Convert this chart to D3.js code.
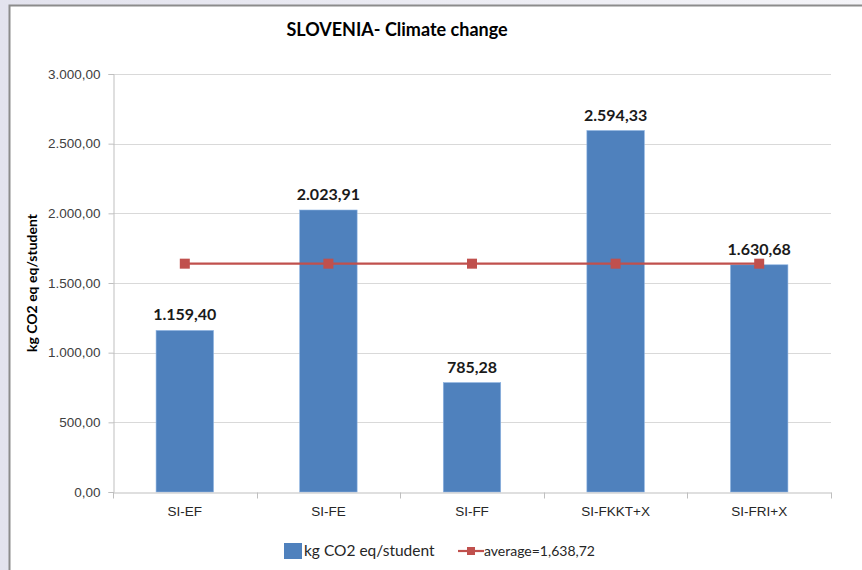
<!DOCTYPE html>
<html>
<head>
<meta charset="utf-8">
<script src="https://cdn.jsdelivr.net/npm/d3@7"></script>
<style>
  html, body { margin: 0; padding: 0; background: #fff; }
  svg { display: block; font-family: Lato, "Open Sans", sans-serif; }
</style>
</head>
<body>
<svg id="chart"></svg>
<script>
// Chart data
const categories = ["SI-EF", "SI-FE", "SI-FF", "SI-FKKT+X", "SI-FRI+X"];
const values = [1159.40, 2023.91, 785.28, 2594.33, 1630.68];
const averageValue = 1638.72;
const yTicks = [0, 500, 1000, 1500, 2000, 2500, 3000];
const barSeriesName = "kg CO2 eq/student";
const lineSeriesName = "average=1,638,72";

const svgWidth = 862;
const svgHeight = 570;
const margin = { top: 74, right: 31, bottom: 78, left: 113 };
const width = svgWidth - margin.left - margin.right;
const height = svgHeight - margin.top - margin.bottom;

// Slovenian style numbers: 3.000,00
const locale = d3.formatLocale({ decimal: ",", thousands: ".", grouping: [3], currency: ["", ""] });
const fmt = locale.format(",.2f");

const root = d3.select("#chart")
    .attr("width", svgWidth)
    .attr("height", svgHeight);

// Backdrop around the chart frame
const grad = root.append("defs").append("linearGradient")
    .attr("id", "bg").attr("x1", 0).attr("y1", 0).attr("x2", 1).attr("y2", 0);
grad.append("stop").attr("offset", "0%").attr("stop-color", "#e3e3ee");
grad.append("stop").attr("offset", "100%").attr("stop-color", "#f4f4f8");
root.append("rect").attr("width", svgWidth).attr("height", svgHeight).attr("fill", "url(#bg)");
root.append("rect")
    .attr("x", 9.5).attr("y", 5.5)
    .attr("width", svgWidth).attr("height", svgHeight)
    .attr("fill", "#fff")
    .attr("stroke", "#8c8c8c")
    .attr("stroke-width", 2);

const svg = root.append("g")
    .attr("transform", `translate(${margin.left},${margin.top})`);

const x = d3.scaleBand()
    .domain(categories)
    .range([0, width]);

const y = d3.scaleLinear()
    .domain([0, 3000])
    .range([height, 0]);

const barWidth = x.bandwidth() * 0.4;

// Horizontal grid lines
svg.append("g")
    .selectAll("line")
    .data(yTicks.filter(d => d > 0))
    .join("line")
    .attr("x1", 0)
    .attr("x2", width)
    .attr("y1", d => Math.round(y(d)) + 0.5)
    .attr("y2", d => Math.round(y(d)) + 0.5)
    .attr("stroke", "#d9d9d9")
    .attr("stroke-width", 1);

// Y axis
const yAxis = svg.append("g")
    .attr("transform", "translate(0.5,0)")
    .call(d3.axisLeft(y).tickValues(yTicks).tickSize(5).tickPadding(8).tickFormat(fmt));
yAxis.select(".domain").attr("stroke", "#bfbfbf");
yAxis.selectAll(".tick line").attr("stroke", "#bfbfbf");
yAxis.selectAll(".tick text")
    .attr("fill", "#404040")
    .attr("font-size", 13.5);

// Bars
svg.append("g")
    .selectAll("rect")
    .data(categories)
    .join("rect")
    .attr("x", (d) => x(d) + (x.bandwidth() - barWidth) / 2)
    .attr("y", (d, i) => y(values[i]))
    .attr("width", barWidth)
    .attr("height", (d, i) => height - y(values[i]))
    .attr("fill", "#4f81bd")
    .attr("stroke", "#8db3e2")
    .attr("stroke-width", 0.6);

// Bar value labels
svg.append("g")
    .selectAll("text")
    .data(categories)
    .join("text")
    .attr("x", d => x(d) + x.bandwidth() / 2)
    .attr("y", (d, i) => y(values[i]) - 10)
    .attr("text-anchor", "middle")
    .attr("font-size", 16)
    .attr("font-weight", "bold")
    .attr("fill", "#1a1a1a")
    .text((d, i) => fmt(values[i]));

// X axis
const xAxis = svg.append("g")
    .attr("transform", `translate(0,${Math.round(height) + 0.5})`)
    .call(d3.axisBottom(x).tickSize(0).tickPadding(14));
xAxis.select(".domain").attr("stroke", "#bfbfbf");
xAxis.selectAll(".tick text")
    .attr("fill", "#262626")
    .attr("font-size", 13.5);
// tick marks between categories
xAxis.append("g")
    .selectAll("line")
    .data(d3.range(categories.length + 1))
    .join("line")
    .attr("x1", i => Math.round(i * x.step()) + 0.5)
    .attr("x2", i => Math.round(i * x.step()) + 0.5)
    .attr("y1", 0)
    .attr("y2", 6)
    .attr("stroke", "#bfbfbf");

// Average line with square markers
const line = d3.line()
    .x(d => x(d) + x.bandwidth() / 2)
    .y(() => y(averageValue));
svg.append("path")
    .attr("d", line(categories))
    .attr("fill", "none")
    .attr("stroke", "#c0504d")
    .attr("stroke-width", 2.2);
svg.append("g")
    .selectAll("rect")
    .data(categories)
    .join("rect")
    .attr("x", d => x(d) + x.bandwidth() / 2 - 5)
    .attr("y", y(averageValue) - 5)
    .attr("width", 10)
    .attr("height", 10)
    .attr("fill", "#c0504d");

// Title
root.append("text")
    .attr("x", 397)
    .attr("y", 36)
    .attr("text-anchor", "middle")
    .attr("font-size", 18)
    .attr("font-weight", "bold")
    .attr("fill", "#000")
    .text("SLOVENIA- Climate change");

// Y axis title
root.append("text")
    .attr("transform", "translate(37,283) rotate(-90)")
    .attr("text-anchor", "middle")
    .attr("font-size", 14)
    .attr("font-weight", "bold")
    .attr("fill", "#000")
    .text("kg CO2 eq eq/student");

// Legend
const legend = root.append("g").attr("transform", "translate(284,551)");
legend.append("rect")
    .attr("x", 0).attr("y", -8)
    .attr("width", 18).attr("height", 16)
    .attr("fill", "#4f81bd");
legend.append("text")
    .attr("x", 20).attr("y", 5)
    .attr("font-size", 15.5)
    .attr("fill", "#262626")
    .text(barSeriesName);
legend.append("line")
    .attr("x1", 174).attr("x2", 200)
    .attr("y1", 0).attr("y2", 0)
    .attr("stroke", "#c0504d").attr("stroke-width", 2.2);
legend.append("rect")
    .attr("x", 183).attr("y", -4)
    .attr("width", 8).attr("height", 8)
    .attr("fill", "#c0504d");
legend.append("text")
    .attr("x", 200).attr("y", 5)
    .attr("font-size", 14)
    .attr("fill", "#262626")
    .text(lineSeriesName);
</script>
</body>
</html>
